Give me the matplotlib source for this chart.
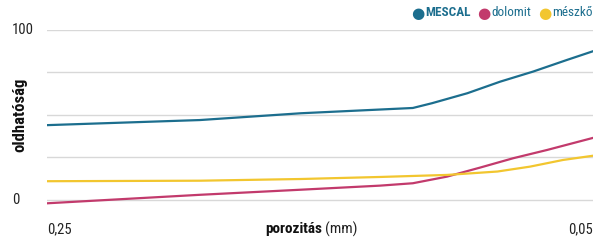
import numpy as np
import matplotlib.pyplot as plt

plt.rcParams['font.family'] = ['Roboto Condensed', 'Roboto', 'DejaVu Sans']

# porosity (mm), axis runs 0.25 -> 0.05
x_blue = [0.25, 0.194, 0.157, 0.116, 0.109, 0.096, 0.084, 0.072, 0.0595, 0.05]
mescal = [44, 47, 51, 54.1, 56.9, 62.8, 69.6, 75.5, 82.4, 87.5]

x_pink = [0.25, 0.194, 0.157, 0.128, 0.116, 0.1035, 0.0914, 0.0793, 0.0668, 0.05]
dolomit = [-2, 3, 6, 8.4, 9.8, 13.7, 19, 24.5, 29.4, 36.5]

x_yel = [0.25, 0.194, 0.157, 0.128, 0.1035, 0.085, 0.073, 0.061, 0.05]
meszko = [11, 11.3, 12.3, 13.5, 14.7, 16.7, 19.6, 23.5, 26]

blue = '#1c6e8e'
pink = '#c23a6c'
yellow = '#f2c62f'

fig = plt.figure(figsize=(6, 2.45), dpi=100)
ax = fig.add_axes([47/600, 40/245, 546/600, 175/245])

ax.plot(x_blue, mescal, color=blue, lw=1.6)
ax.plot(x_pink, dolomit, color=pink, lw=1.6)
ax.plot(x_yel, meszko, color=yellow, lw=1.6)

ax.set_xlim(0.25, 0.05)
ax.set_ylim(-3, 100)
ax.set_yticks([0, 25, 50, 75, 100])
ax.grid(axis='y', color='#d8d8d8', lw=1)
ax.set_axisbelow(True)
ax.tick_params(left=False, bottom=False, labelleft=False, labelbottom=False)
for s in ax.spines.values():
    s.set_visible(False)

tc = '#222222'
fs = 10.5
fig.text(12/600, 1 - 30/245, '100', fontsize=fs, color=tc, va='center', ha='left')
fig.text(12/600, 1 - 200/245, '0', fontsize=fs, color=tc, va='center', ha='left')
fig.text(47/600, 1 - 229/245, '0,25', fontsize=fs, color=tc, va='center', ha='left')
fig.text(593/600, 1 - 229/245, '0,05', fontsize=fs, color=tc, va='center', ha='right')
fig.text(20/600, 1 - 115/245, 'oldhatóság', fontsize=12, color='#111111',
         fontweight='bold', rotation=90, va='center', ha='center')
fig.text(322/600, 1 - 229/245, 'porozitás', fontsize=11, color='#111111',
         fontweight='bold', va='center', ha='right')
fig.text(325/600, 1 - 229/245, '(mm)', fontsize=11, color=tc, va='center', ha='left')

# legend
ly = 1 - 13/245
items = [(418, 'MESCAL', blue, 'bold'), (484, 'dolomit', pink, 'normal'),
         (545, 'mészkő', yellow, 'normal')]
for lx, lab, c, w in items:
    fig.text(lx/600, ly, '●', color=c, fontsize=11, va='center', ha='center',
             family='DejaVu Sans')
    fig.text((lx + 7)/600, ly, lab, color=blue, fontsize=9.5, fontweight=w,
             va='center', ha='left')

fig.savefig('out.png', dpi=100)
